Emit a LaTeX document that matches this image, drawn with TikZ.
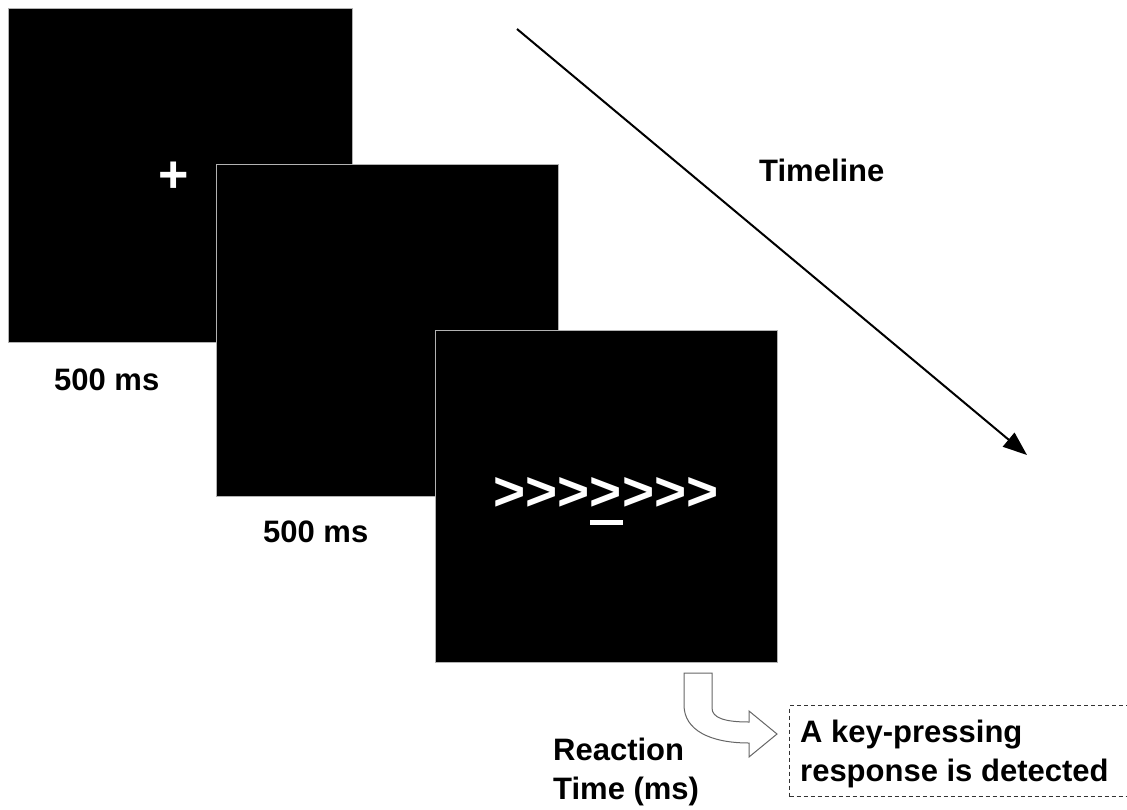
\documentclass[tikz,border=0pt]{standalone}
\usepackage{fontspec}
\setmainfont{Liberation Sans}
\usetikzlibrary{arrows.meta}
\begin{document}
\begin{tikzpicture}[x=1pt,y=-1pt,
  screen/.style={fill=black,draw=black!30,line width=1pt},
  lbl/.style={font=\fontsize{31}{39}\selectfont\bfseries,inner sep=0pt,anchor=west,align=left},
  stim/.style={font=\fontsize{55}{55}\selectfont\bfseries,text=white,inner sep=0pt}]
\useasboundingbox (0,0) rectangle (1127,809);
% screens
\draw[screen] (8,8) rectangle (352,342);
\node (fix) [stim, font=\fontsize{52}{52}\selectfont\bfseries] at (174,177) {+};
\draw[screen] (216,164) rectangle (558,496);
\draw[screen] (435,330) rectangle (777,662);
\node (arrows) [stim] at (606,494) {>{}>{}>{}>{}>{}>{}>};
\fill[white] (590,520) rectangle (623,525);
% labels
\node (t1) [lbl] at (54,380) {500 ms};
\node (t2) [lbl] at (263,532) {500 ms};
\node (tl) [lbl] at (759,170) {Timeline};
\node (rt) [lbl,anchor=north west] at (553,738) {Reaction\\Time (ms)};
% timeline arrow
\coordinate (ts) at (517,29);
\coordinate (te) at (1027,455);
\draw[line width=2pt,-{Triangle[length=24pt,width=18pt]}] (ts) -- (te);
% response box
\node (resp) [draw=black!80,dashed,dash pattern=on 4pt off 3pt,line width=1pt,minimum width=338pt,minimum height=91pt,anchor=north west,inner sep=0pt] at (789,705) {};
\node (resptxt) [lbl,anchor=north west] at (800,720) {A key-pressing\\response is detected};
% bent arrow
\draw[draw=black!60,fill=white,line width=1pt] (684,673) -- (712,673) -- (712,708)
  .. controls (712,718) and (725,722) .. (749,722) -- (749,711) -- (777,734) -- (749,757) -- (749,743)
  .. controls (710,743) and (684,730) .. (684,705) -- cycle;
\end{tikzpicture}
\end{document}
